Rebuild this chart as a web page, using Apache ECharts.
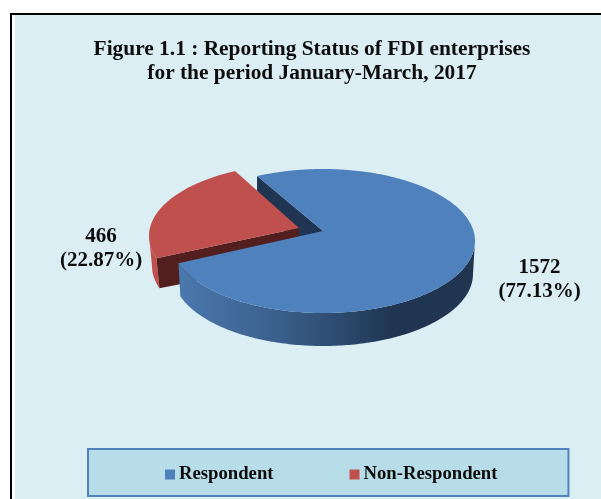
<!DOCTYPE html>
<html><head><meta charset="utf-8">
<style>html,body{margin:0;padding:0;background:#fff}#c{width:601px;height:499px}</style>
<script src="https://cdn.jsdelivr.net/npm/echarts@6/dist/echarts.min.js"></script>
</head><body><div id="c"></div>
<script>
const categories = ['Respondent', 'Non-Respondent'];
const values = [1572, 466];
const sliceColors = ['#4f81bd', '#c0504d'];
const titleLines = ['Figure 1.1 : Reporting Status of FDI enterprises', 'for the period January-March, 2017'];

const FONT = '"Liberation Serif","Times New Roman",serif';
const total = values[0] + values[1];
const START = -25.7;            // first slice start, degrees clockwise from 12 o'clock
const RX = 152, RY = 72, DEPTH = 33;
const blueGeo = {cx: 323, cy: 241, ax: 323, ay: 231};
const redGeo  = {cx: 301, cy: 236, ax: 299, ay: 228};
const sweep0 = values[0] / total * 360;

function pt(g, deg, dy, rx, ry) {
  const r = deg * Math.PI / 180;
  return [g.cx + (rx || RX) * Math.sin(r), g.cy - (ry || RY) * Math.cos(r) + (dy || 0)];
}
function arc(g, a, b, dy, rx) {
  const out = [], n = Math.max(2, Math.ceil(Math.abs(b - a)));
  for (let i = 0; i <= n; i++) out.push(pt(g, a + (b - a) * i / n, dy, rx));
  return out;
}
function poly(points, fill, z2) {
  return {type: 'polygon', z2, silent: true, shape: {points}, style: {fill, stroke: null}};
}
function label(text, x, y) {
  return {type: 'text', z2: 10, silent: true, style: {
    text, x, y, fill: '#0d0d0d', align: 'center', verticalAlign: 'middle',
    font: 'bold 21px ' + FONT, lineHeight: 24}};
}
function pctText(i) {
  return values[i] + '\n(' + (values[i] / total * 100).toFixed(2) + '%)';
}
function renderRespondent() {
  const g = blueGeo, a = START, b = START + sweep0;
  const A = pt(g, a);
  const apex = [g.ax, g.ay];
  const top = [apex].concat(arc(g, a, b));
  const cut = [A, apex, [apex[0], apex[1] + DEPTH], [A[0], A[1] + DEPTH]];
  const outerTop = arc(g, 90, b);
  const outerBot = arc(g, 90, b, DEPTH, RX - 2);
  const grad = new echarts.graphic.LinearGradient(0, 0, 1, 0, [
    {offset: 0, color: '#4a79ae'}, {offset: 0.3, color: '#3c628f'},
    {offset: 0.55, color: '#2c4a6e'}, {offset: 0.72, color: '#1f3552'}, {offset: 1, color: '#1f3552'}]);
  return {type: 'group', children: [
    poly(cut, '#1f3552', 1),
    poly(outerTop.concat(outerBot.reverse()), grad, 5),
    poly(top, sliceColors[0], 6),
    label(pctText(0), 539.5, 280)
  ]};
}
function renderNonRespondent() {
  const g = redGeo, a = START + sweep0, b = START + 360;
  const apex = [g.ax, g.ay];
  const L = pt(g, a);
  const top = [apex].concat(arc(g, a, b));
  const wall = [apex, L, [L[0] + 3, L[1] + DEPTH - 3], [apex[0], apex[1] + DEPTH]];
  const outerTop = arc(g, 270, a);
  const outerBot = arc(g, 270, a, DEPTH - 3).map(p => [p[0] + 3, p[1]]);
  return {type: 'group', children: [
    poly(outerTop.concat(outerBot.reverse()), '#c0504d', 2),
    poly(wall, '#521f1e', 3),
    poly(top, sliceColors[1], 4),
    label(pctText(1), 101, 249)
  ]};
}
const chart = echarts.init(document.getElementById('c'), null, {renderer: 'canvas'});
chart.setOption({
  animation: false,
  backgroundColor: '#fff',
  color: sliceColors,
  graphic: [
    {type: 'rect', z: -10, silent: true, shape: {x: 10, y: 13, width: 591, height: 486}, style: {fill: '#000'}},
    {type: 'rect', z: -9, silent: true, shape: {x: 12, y: 15, width: 589, height: 484}, style: {fill: '#fff'}},
    {type: 'rect', z: -8, silent: true, shape: {x: 15, y: 15, width: 586, height: 484}, style: {fill: '#dbeef4'}}
  ],
  title: {
    text: titleLines.join('\n'), left: 307, top: 32, textAlign: 'center',
    textStyle: {fontFamily: FONT, fontWeight: 'bold', fontSize: 21.4, lineHeight: 24, color: '#0d0d0d'}
  },
  legend: {
    data: categories, left: 88, top: 449, orient: 'horizontal',
    padding: [16, 71, 12, 77], itemGap: 76, itemWidth: 10, itemHeight: 10,
    icon: 'rect', backgroundColor: '#b7dde8', borderColor: '#4f81bd', borderWidth: 2,
    itemStyle: {borderWidth: 0},
    textStyle: {fontFamily: FONT, fontWeight: 'bold', fontSize: 18.7, color: '#0d0d0d', padding: [0, 0, 0, -1]}
  },
  series: [
    {type: 'custom', name: categories[0], coordinateSystem: 'none', data: [values[0]], renderItem: renderRespondent, silent: true},
    {type: 'custom', name: categories[1], coordinateSystem: 'none', data: [values[1]], renderItem: renderNonRespondent, silent: true}
  ]
});
</script></body></html>
